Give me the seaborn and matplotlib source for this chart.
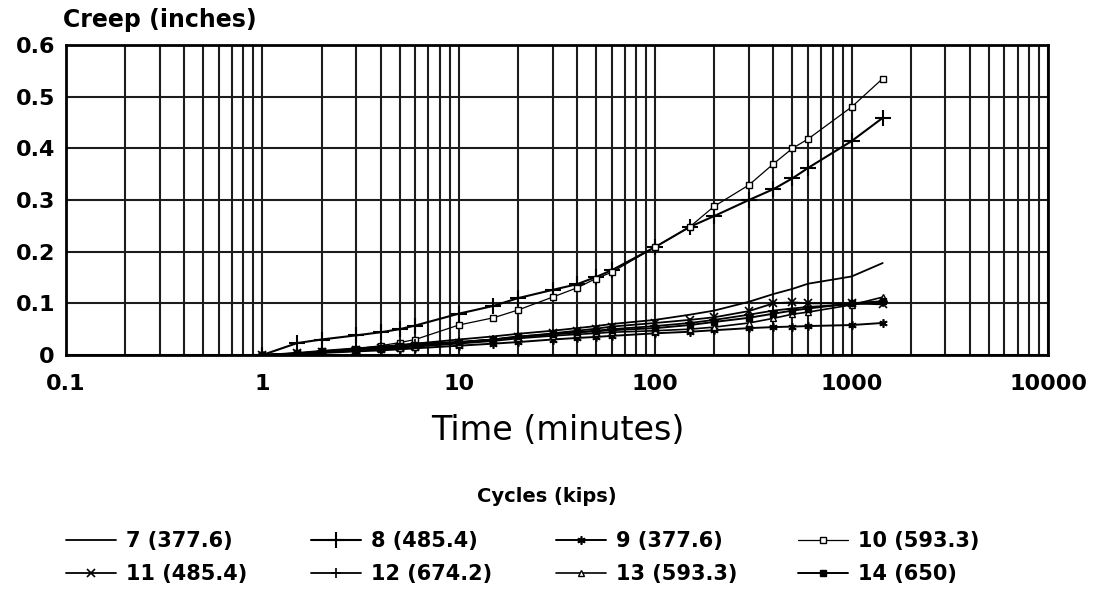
import numpy as np
import pandas as pd
import matplotlib
matplotlib.use("Agg")
import matplotlib.pyplot as plt
import seaborn as sns
from matplotlib.ticker import LogLocator, NullFormatter, FixedLocator
from matplotlib.lines import Line2D

# ---------------- data ----------------
time_min = [1, 1.5, 2, 3, 4, 5, 6, 10, 15, 20, 30, 40, 50, 60,
            100, 150, 200, 300, 400, 500, 600, 1000, 1440]

c7 = [0, 0.003, 0.007, 0.012, 0.016, 0.019, 0.022, 0.030, 0.036, 0.041, 0.047, 0.052,
      0.056, 0.060, 0.068, 0.078, 0.086, 0.103, 0.118, 0.128, 0.138, 0.152, 0.178]
c8 = [0, 0.023, 0.030, 0.038, 0.044, 0.050, 0.057, 0.080, 0.095, 0.110, 0.126, 0.137,
      0.151, 0.164, 0.209, 0.248, 0.269, 0.300, 0.321, 0.342, 0.362, 0.414, 0.459]
c9 = [0, 0.002, 0.004, 0.007, 0.009, 0.011, 0.013, 0.018, 0.022, 0.025, 0.030, 0.033,
      0.035, 0.037, 0.042, 0.045, 0.048, 0.052, 0.054, 0.055, 0.056, 0.058, 0.062]
c10 = [0, 0.003, 0.007, 0.012, 0.018, 0.024, 0.030, 0.058, 0.072, 0.087, 0.112, 0.130,
       0.148, 0.160, 0.209, 0.248, 0.288, 0.329, 0.370, 0.400, 0.418, 0.480, 0.535]
c11 = [0, 0.003, 0.006, 0.010, 0.013, 0.016, 0.018, 0.024, 0.030, 0.035, 0.042, 0.047,
       0.051, 0.055, 0.062, 0.068, 0.073, 0.085, 0.100, 0.102, 0.100, 0.100, 0.098]
c12 = [0, 0.004, 0.008, 0.013, 0.016, 0.019, 0.022, 0.025, 0.030, 0.034, 0.040, 0.044,
       0.047, 0.050, 0.056, 0.062, 0.068, 0.078, 0.086, 0.090, 0.093, 0.098, 0.102]
c13 = [0, 0.002, 0.005, 0.008, 0.011, 0.014, 0.016, 0.022, 0.027, 0.032, 0.037, 0.040,
       0.042, 0.044, 0.047, 0.050, 0.054, 0.062, 0.071, 0.079, 0.083, 0.097, 0.112]
c14 = [0, 0.003, 0.006, 0.010, 0.013, 0.017, 0.020, 0.025, 0.030, 0.036, 0.040, 0.044,
       0.046, 0.048, 0.052, 0.058, 0.064, 0.072, 0.080, 0.086, 0.090, 0.100, 0.104]

series_labels = ["7 (377.6)", "8 (485.4)", "9 (377.6)", "10 (593.3)",
                 "11 (485.4)", "12 (674.2)", "13 (593.3)", "14 (650)"]
series_values = [c7, c8, c9, c10, c11, c12, c13, c14]

x_ticks = [0.1, 1, 10, 100, 1000, 10000]
x_tick_labels = ["0.1", "1", "10", "100", "1000", "10000"]
y_ticks = [0, 0.1, 0.2, 0.3, 0.4, 0.5, 0.6]
y_tick_labels = ["0", "0.1", "0.2", "0.3", "0.4", "0.5", "0.6"]

# ---------------- styles ----------------
styles = [
    dict(marker=None, lw=1.3),
    dict(marker="+", ms=11, mew=1.5, lw=1.5),
    dict(marker=(6, 2, 0), ms=6, mew=1.2, lw=1.4),
    dict(marker="s", ms=5, mfc="white", mew=1.0, lw=0.9),
    dict(marker="x", ms=6, mew=1.2, lw=1.3),
    dict(marker="+", ms=7, mew=1.2, lw=1.3),
    dict(marker="^", ms=5, mfc="white", mew=1.0, lw=1.2),
    dict(marker="s", ms=5, mfc="black", mew=1.0, lw=1.4),
]

sns.set_style("white")
plt.rcParams["font.family"] = ["DejaVu Sans"]
plt.rcParams["text.color"] = "black"
plt.rcParams["xtick.color"] = "black"
plt.rcParams["ytick.color"] = "black"
plt.rcParams["axes.labelcolor"] = "black"

fig = plt.figure(figsize=(10.93, 6.05), dpi=100)
ax = fig.add_axes([66 / 1093, 1 - 355 / 605, (1048 - 66) / 1093, (355 - 45) / 605])

df = pd.DataFrame({"time": np.tile(time_min, len(series_labels)),
                   "creep": np.concatenate(series_values),
                   "series": np.repeat(series_labels, len(time_min))})

handles = []
for lab, st in zip(series_labels, styles):
    sub = df[df["series"] == lab]
    kw = dict(st)
    if kw.get("marker") is None:
        kw.pop("marker")
    else:
        kw["mec"] = "black"
    sns.lineplot(data=sub, x="time", y="creep", ax=ax, color="black",
                 legend=False, zorder=3, **kw)
    h = Line2D([0], [0], color="black", **kw)
    handles.append(h)

ax.set_xscale("log")
ax.set_xlim(0.1, 10000)
ax.set_ylim(0, 0.6)
ax.xaxis.set_major_locator(FixedLocator(x_ticks))
ax.set_xticklabels(x_tick_labels)
ax.xaxis.set_minor_locator(LogLocator(base=10, subs=np.arange(2, 10), numticks=20))
ax.xaxis.set_minor_formatter(NullFormatter())
ax.set_yticks(y_ticks)
ax.set_yticklabels(y_tick_labels)

gcol = "#1c1c1c"
ax.grid(True, axis="x", which="both", color=gcol, lw=1.5)
ax.grid(True, axis="y", which="major", color=gcol, lw=1.5)
ax.set_axisbelow(True)
for sp in ax.spines.values():
    sp.set_visible(True)
    sp.set_color("black")
    sp.set_linewidth(2)

ax.tick_params(which="both", length=0)
ax.tick_params(axis="x", pad=14, labelsize=16, labelcolor="black")
ax.tick_params(axis="y", pad=8, labelsize=16, labelcolor="black")
for t in ax.get_xticklabels() + ax.get_yticklabels():
    t.set_fontweight("bold")
ax.set_xlabel("")
ax.set_ylabel("")

fig.text(63 / 1093, 1 - 20 / 605, "Creep (inches)", fontsize=17, fontweight="bold",
         ha="left", va="center", color="black")
fig.text(558 / 1093, 1 - 430 / 605, "Time (minutes)", fontsize=24,
         ha="center", va="center", color="black")
fig.text(547 / 1093, 1 - 497 / 605, "Cycles (kips)", fontsize=14, fontweight="bold",
         ha="center", va="center", color="black")

col_x = [66, 311, 556, 798]
for ci in range(4):
    hs = [handles[ci], handles[ci + 4]]
    ls = [series_labels[ci], series_labels[ci + 4]]
    leg = fig.legend(hs, ls, loc="upper left",
                     bbox_to_anchor=(col_x[ci] / 1093, 1 - 531 / 605),
                     frameon=False, borderpad=0, borderaxespad=0,
                     handlelength=2.4, handletextpad=0.5, labelspacing=0.62,
                     prop=dict(size=15, weight="bold"))
    for txt in leg.get_texts():
        txt.set_color("black")

fig.savefig("out.png", dpi=100)
